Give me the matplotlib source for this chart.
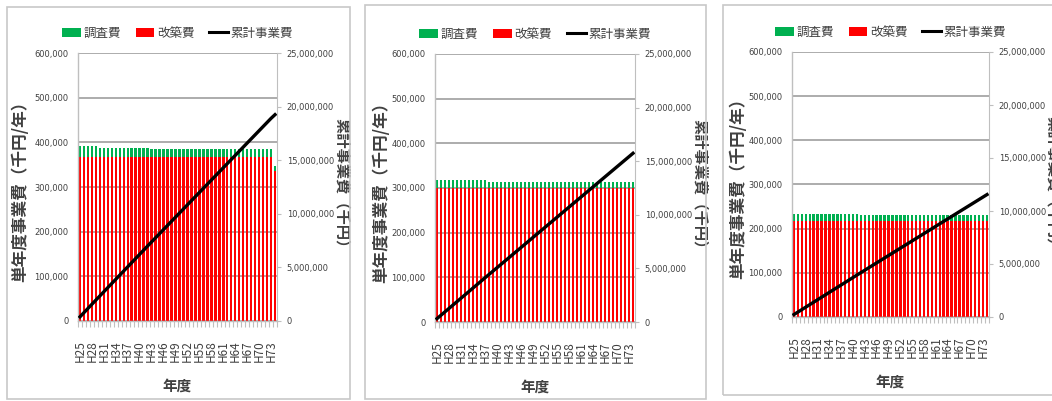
import numpy as np
import matplotlib
matplotlib.use("Agg")
import matplotlib.pyplot as plt
from matplotlib.patches import Patch, Rectangle
from matplotlib.lines import Line2D
from matplotlib.ticker import FuncFormatter, MultipleLocator

plt.rcParams['font.family'] = ['Noto Sans CJK JP', 'DejaVu Sans']
NUM_FAMILY = ['DejaVu Sans']

# Fiscal years H25 .. H74
years = [f"H{y}" for y in range(25, 75)]

# Case 1 (thousand yen / year)
renov_1 = [367000] * 49 + [335000]
survey_1 = [24000] * 5 + [21000] * 13 + [17000] * 31 + [11000]

# Case 2
renov_2 = [300000] * 50
survey_2 = [17000] * 13 + [14000] * 37

# Case 3
renov_3 = [217000] * 50
survey_3 = [16000] * 17 + [13000] * 33

legend_labels = ["調査費", "改築費", "累計事業費"]
left_label = "単年度事業費（千円/年）"
right_label = "累計事業費（千円）"
x_label = "年度"

GREEN = "#00b050"
RED = "#ff0000"
GRID = "#a6a6a6"
TXT = "#404040"

W, H = 1052, 401
fig = plt.figure(figsize=(W / 100, H / 100), dpi=100)
fig.patch.set_facecolor("white")


def px_rect(x0, y0, x1, y1):
    """Convert pixel box (top-left origin) to figure fraction [l, b, w, h]."""
    return [x0 / W, (H - y1) / H, (x1 - x0) / W, (y1 - y0) / H]


panels = [
    dict(renov=renov_1, survey=survey_1, plot=(78, 53, 277, 321), box=(7, 7, 350, 399),
         left_x=20, right_x=342),
    dict(renov=renov_2, survey=survey_2, plot=(435, 54, 635, 322), box=(365, 5, 706, 399),
         left_x=381, right_x=700),
    dict(renov=renov_3, survey=survey_3, plot=(792, 52, 989, 317), box=(723, 5, 1060, 395),
         left_x=738, right_x=1053),
]

comma = FuncFormatter(lambda v, p: f"{int(v):,}")
x = np.arange(len(years))


def style_numbers(labels):
    for t in labels:
        t.set_fontfamily(NUM_FAMILY)
        t.set_fontstretch("condensed")
        t.set_fontsize(6.7)


for pnl in panels:
    # panel frame
    bx = px_rect(*pnl["box"])
    fig.add_artist(Rectangle((bx[0], bx[1]), bx[2], bx[3], transform=fig.transFigure,
                             fill=False, edgecolor="#c8c8c8", linewidth=1.2))

    x0, y0, x1, y1 = pnl["plot"]
    ax = fig.add_axes(px_rect(x0, y0, x1, y1))
    pw, ph = x1 - x0, y1 - y0
    renov = np.array(pnl["renov"])
    survey = np.array(pnl["survey"])
    total = renov + survey
    cumulative = np.cumsum(total)

    ax.bar(x, renov, width=0.62, color=RED, zorder=2)
    ax.bar(x, survey, bottom=renov, width=0.62, color=GREEN, zorder=2)

    ax.set_xlim(-0.5, len(years) - 0.5)
    ax.set_ylim(0, 600000)
    ax.yaxis.set_major_locator(MultipleLocator(100000))
    ax.yaxis.set_major_formatter(comma)
    ax.set_axisbelow(True)
    ax.grid(axis="y", color=GRID, linewidth=1.3)
    for s in ["top", "right"]:
        ax.spines[s].set_visible(False)
    for s in ["left", "bottom"]:
        ax.spines[s].set_color("#bfbfbf")
        ax.spines[s].set_linewidth(1.0)
    ax.tick_params(axis="y", length=0, pad=7, labelcolor=TXT)
    style_numbers(ax.get_yticklabels())

    ax.set_xticks(x[::3])
    ax.set_xticklabels(years[::3], rotation=90, fontsize=8.5, color=TXT)
    ax.set_xticks(np.arange(-0.5, len(years), 1.0), minor=True)
    ax.tick_params(axis="x", which="major", length=0, pad=14)
    ax.tick_params(axis="x", which="minor", length=4, color="#bfbfbf", width=0.8)

    ax.set_ylabel(left_label, fontsize=12, fontweight="bold", color=TXT)
    ax.yaxis.set_label_coords((pnl["left_x"] - x0) / pw, 0.5)
    ax.yaxis.label.set_va("center")
    ax.set_xlabel(x_label, fontsize=10.5, fontweight="bold", color=TXT)
    ax.xaxis.set_label_coords(0.5, -57 / ph)

    ax2 = ax.twinx()
    ax2.plot(x, cumulative, color="black", linewidth=2.4, zorder=3)
    ax2.set_ylim(0, 25000000)
    ax2.yaxis.set_major_locator(MultipleLocator(5000000))
    ax2.yaxis.set_major_formatter(comma)
    for s in ["top", "left", "bottom"]:
        ax2.spines[s].set_visible(False)
    ax2.spines["right"].set_color("#bfbfbf")
    ax2.tick_params(axis="y", length=3, color="#bfbfbf", pad=4, labelcolor=TXT)
    style_numbers(ax2.get_yticklabels())
    ax2.set_ylabel(right_label, fontsize=11, fontweight="bold", color=TXT, rotation=270)
    ax2.yaxis.set_label_coords((pnl["right_x"] - x0) / pw, 0.5)
    ax2.yaxis.label.set_va("center")

    handles = [Patch(facecolor=GREEN), Patch(facecolor=RED),
               Line2D([0], [0], color="black", linewidth=2.2)]
    ax.legend(handles, legend_labels, loc="lower center", bbox_to_anchor=(0.5, 1.03),
              ncol=3, frameon=False, fontsize=9, handlelength=1.5, handleheight=0.8,
              handletextpad=0.2, columnspacing=1.2, borderaxespad=0,
              labelcolor=TXT)

fig.savefig("out.png", dpi=100, facecolor="white")
